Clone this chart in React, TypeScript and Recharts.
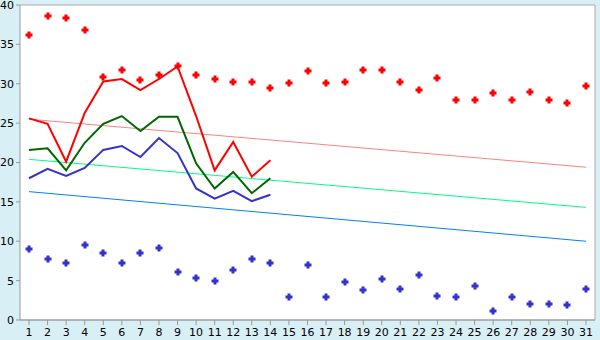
import React from 'react';
import { ComposedChart, Line, XAxis, YAxis, CartesianGrid } from 'recharts';

const days = Array.from({ length: 31 }, (_, i) => String(i + 1));
const maxVals = [36.2, 38.6, 38.4, 36.8, 30.8, 31.7, 30.5, 31.1, 32.3, 31.1, 30.6, 30.2, 30.2, 29.5, 30.1, 31.6, 30.1, 30.2, 31.7, 31.7, 30.2, 29.2, 30.7, 28.0, 28.0, 28.8, 28.0, 29.0, 28.0, 27.5, 29.7];
const minVals = [9.0, 7.8, 7.2, 9.5, 8.5, 7.2, 8.5, 9.1, 6.1, 5.3, 4.9, 6.3, 7.8, 7.2, 2.9, 7.0, 2.9, 4.8, 3.8, 5.2, 4.0, 5.7, 3.0, 2.9, 4.3, 1.1, 2.9, 2.0, 2.0, 1.9, 4.0];
const redLine = [25.6, 24.9, 20.1, 26.3, 30.3, 30.6, 29.2, 30.6, 32.2, 25.9, 19.0, 22.6, 18.2, 20.3];
const greenLine = [21.6, 21.8, 19.0, 22.5, 24.9, 25.9, 24.0, 25.8, 25.8, 19.9, 16.7, 18.8, 16.1, 18.0];
const blueLine = [18.0, 19.2, 18.3, 19.3, 21.6, 22.1, 20.7, 23.1, 21.2, 16.7, 15.4, 16.4, 15.1, 15.9];
const pinkTrend: [number, number] = [25.5, 19.4];
const greenTrend: [number, number] = [20.4, 14.3];
const blueTrend: [number, number] = [16.3, 10.0];
const yTicks = [0, 5, 10, 15, 20, 25, 30, 35, 40];

const data = days.map((d, i) => ({
  day: d,
  max: maxVals[i],
  min: minVals[i],
  red: i < redLine.length ? redLine[i] : null,
  green: i < greenLine.length ? greenLine[i] : null,
  blue: i < blueLine.length ? blueLine[i] : null,
  tPink: i === 0 ? pinkTrend[0] : i === days.length - 1 ? pinkTrend[1] : null,
  tGreen: i === 0 ? greenTrend[0] : i === days.length - 1 ? greenTrend[1] : null,
  tBlue: i === 0 ? blueTrend[0] : i === days.length - 1 ? blueTrend[1] : null,
}));

const makeDot = (color: string) => (props: any) => {
  const { cx, cy, index } = props;
  if (cx == null || cy == null) return <g key={index} />;
  const x = Math.round(cx);
  const y = Math.round(cy);
  return (
    <path
      key={index}
      d={`M${x - 1.5},${y - 3.5}h3v2h2v3h-2v2h-3v-2h-2v-3h2z`}
      fill={color}
      stroke="none"
    />
  );
};

const font = { fontFamily: 'DejaVu Sans', fontSize: 11, fill: '#000' };

export default function App() {
  return (
    <div style={{ position: 'absolute', left: 0, top: 0, width: 600, height: 340, background: '#d9eff6' }}>
      <ComposedChart width={600} height={340} data={data} margin={{ top: 5, right: 0, left: 0, bottom: 0 }}>
        <CartesianGrid vertical={false} stroke="#aaaaaa" fill="#ffffff" />
        <XAxis
          dataKey="day"
          height={20}
          tickSize={5}
          tickMargin={3}
          tick={font}
          stroke="#999999"
          interval={0}
          padding={{ left: 9, right: 9 }}
        />
        <YAxis
          yAxisId="l"
          domain={[0, 40]}
          ticks={yTicks}
          width={20}
          tickSize={4}
          tickMargin={2}
          tick={font}
          stroke="#999999"
          interval={0}
        />
        <YAxis yAxisId="r" orientation="right" domain={[0, 40]} width={5} tick={false} tickLine={false} stroke="#aaaaaa" />
        <Line yAxisId="l" dataKey="tPink" stroke="#ff8080" strokeWidth={1} dot={false} connectNulls isAnimationActive={false} />
        <Line yAxisId="l" dataKey="tGreen" stroke="#00ff80" strokeWidth={1} dot={false} connectNulls isAnimationActive={false} />
        <Line yAxisId="l" dataKey="tBlue" stroke="#0080ff" strokeWidth={1} dot={false} connectNulls isAnimationActive={false} />
        <Line yAxisId="l" dataKey="blue" stroke="#3333cc" strokeWidth={2} dot={false} isAnimationActive={false} />
        <Line yAxisId="l" dataKey="green" stroke="#006600" strokeWidth={2} dot={false} isAnimationActive={false} />
        <Line yAxisId="l" dataKey="red" stroke="#ff0000" strokeWidth={2} dot={false} isAnimationActive={false} />
        <Line yAxisId="l" dataKey="max" stroke="none" dot={makeDot('#ff0000')} activeDot={false} isAnimationActive={false} />
        <Line yAxisId="l" dataKey="min" stroke="none" dot={makeDot('#3333cc')} activeDot={false} isAnimationActive={false} />
      </ComposedChart>
    </div>
  );
}
